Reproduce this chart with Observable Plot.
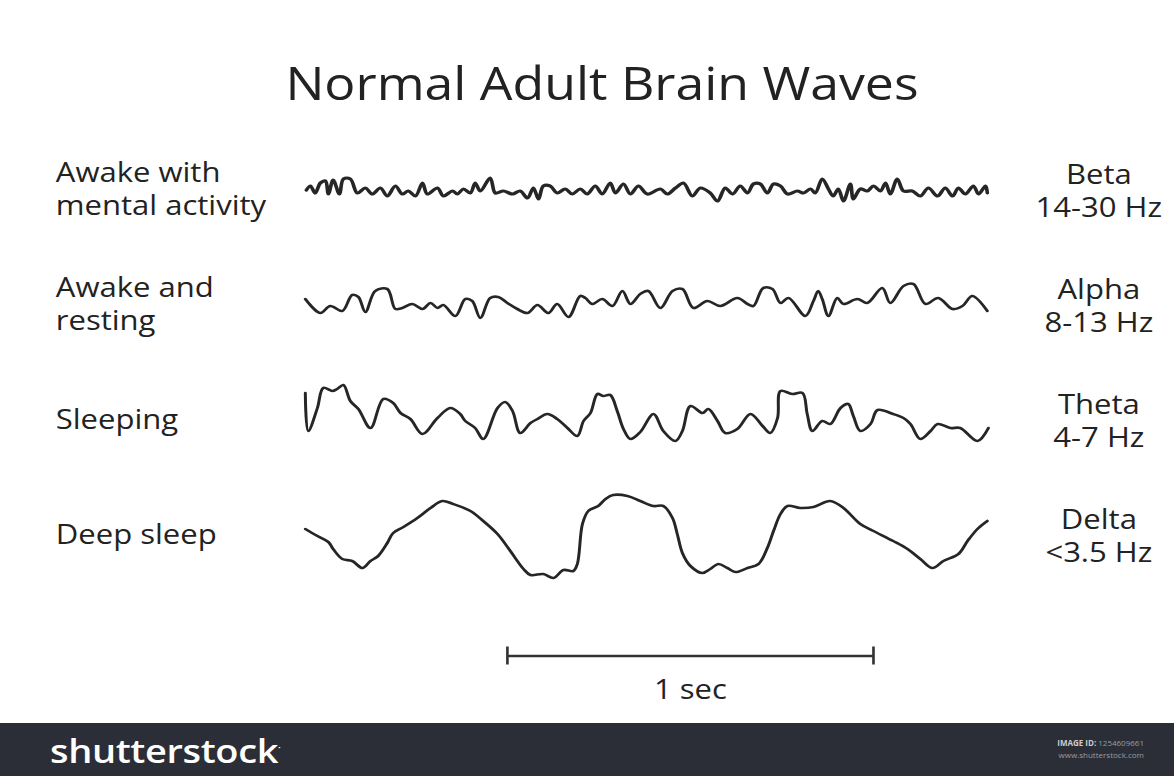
<!DOCTYPE html>
<html>
<head>
<meta charset="utf-8">
<script src="https://cdn.jsdelivr.net/npm/d3@7"></script>
<script src="https://cdn.jsdelivr.net/npm/@observablehq/plot@0.6"></script>
<style>
  html, body { margin: 0; padding: 0; background: #fff; width: 1174px; height: 776px; overflow: hidden; }
  #title { position: absolute; left: 602px; top: 60px; transform: translateX(-50%) scaleX(1.15); margin: 0;
           font: 400 45px/45px "Open Sans", sans-serif; color: #222; white-space: nowrap; }
  #chart { position: absolute; left: 0; top: 130px; transform: scaleX(1.15); transform-origin: 0 0; }
  #footer { position: absolute; left: 0; top: 723px; width: 1174px; height: 53px; background: #2b2e36; }
  #brand { position: absolute; left: 50px; top: 7px; font: 600 33px/36px "Open Sans", sans-serif; color: #fff;
           transform: scaleX(1.15); transform-origin: 0 0; letter-spacing: -0.3px; }
  #imgid { position: absolute; right: 30px; top: 14px; font: 400 8px/12px "Open Sans", sans-serif; color: #9a9ca3; text-align: right; }
</style>
</head>
<body>
<h1 id="title">Normal Adult Brain Waves</h1>
<div id="chart"></div>
<div id="footer"><div id="brand">shutterstock<sup style="font-size:9px">·</sup></div><div id="imgid"><b style="color:#ccc">IMAGE ID:</b> 1254609661<br>www.shutterstock.com</div></div>
<script>
// ---- Data (time in ms, amplitude in arbitrary units) ----
const waveKeys = ["Beta", "Alpha", "Theta", "Delta"];
const stateLabels = ["Awake with\nmental activity", "Awake and\nresting", "Sleeping", "Deep sleep"];
const bandLabels = ["Beta\n14-30 Hz", "Alpha\n8-13 Hz", "Theta\n4-7 Hz", "Delta\n<3.5 Hz"];

const betaPoints = [[3,-2],[14,2],[27,-5],[41,5],[55,7],[63,-6],[76,8],[93,-6],[104,9],[123,9],[142,-5],[164,0],[183,-6],[205,0],[224,-8],[246,2],[265,-6],[281,-3],[301,-8],[320,5],[333,-6],[361,0],[377,-8],[402,-3],[415,-6],[432,-1],[451,-5],[464,5],[478,-3],[505,10],[519,-5],[541,-3],[566,-6],[587,-3],[607,-10],[623,0],[637,-11],[650,2],[669,2],[688,-5],[710,-1],[729,-6],[751,-1],[770,-6],[792,2],[811,-6],[833,5],[847,-5],[869,4],[888,-6],[910,2],[934,-6],[970,-1],[989,-6],[1011,0],[1033,5],[1057,-8],[1079,0],[1106,-5],[1126,-13],[1147,0],[1167,-6],[1188,2],[1208,-5],[1224,4],[1243,4],[1262,-5],[1279,4],[1298,2],[1317,-6],[1344,-3],[1361,-5],[1380,-1],[1393,-5],[1412,9],[1429,-1],[1442,-8],[1456,-1],[1470,-13],[1489,4],[1497,-11],[1516,-1],[1535,-3],[1552,2],[1571,-3],[1585,5],[1598,-6],[1617,9],[1634,-3],[1658,-3],[1680,-8],[1702,0],[1727,-8],[1748,0],[1768,-8],[1784,0],[1803,-6],[1825,2],[1839,-6],[1858,2],[1863,-5]];

const alphaPoints = [[0,4],[41,-10],[68,-3],[101,-8],[128,8],[145,6],[164,-9],[191,12],[224,14],[246,-6],[265,-5],[292,-1],[320,-6],[342,0],[361,-5],[377,-2],[410,-13],[437,4],[456,2],[478,-15],[505,5],[527,6],[552,0],[579,-6],[607,-10],[634,-2],[664,-10],[688,-1],[719,-14],[751,7],[765,5],[784,-1],[811,4],[839,-3],[866,12],[888,-1],[915,9],[937,12],[970,-5],[1003,12],[1030,14],[1060,-5],[1098,2],[1134,-3],[1180,5],[1208,-1],[1224,-3],[1251,15],[1276,14],[1298,0],[1320,5],[1366,-13],[1388,2],[1401,12],[1412,4],[1429,-13],[1453,5],[1470,-1],[1508,4],[1535,0],[1576,15],[1598,0],[1634,17],[1661,19],[1694,-1],[1729,5],[1768,-6],[1795,-3],[1822,7],[1863,-8]];

const thetaPoints = [[0,25],[8,-13],[33,10],[49,30],[74,27],[87,29],[104,33],[123,17],[145,9],[178,-10],[213,19],[240,15],[260,5],[287,-1],[320,-16],[361,0],[396,10],[423,4],[437,-3],[464,-10],[486,-21],[525,10],[546,16],[566,7],[587,-15],[615,-5],[634,-1],[661,4],[688,-1],[716,-10],[743,-18],[760,-3],[779,5],[798,24],[814,22],[833,23],[852,7],[869,-11],[888,-21],[915,-14],[951,4],[978,-13],[1011,-23],[1030,-13],[1052,12],[1085,5],[1101,9],[1126,-3],[1147,-15],[1180,-11],[1216,4],[1249,-8],[1270,-15],[1290,0],[1298,27],[1330,24],[1358,25],[1371,4],[1385,-13],[1412,-3],[1434,-6],[1462,10],[1483,14],[1497,2],[1516,-13],[1544,-6],[1563,8],[1606,4],[1634,0],[1653,-6],[1680,-21],[1708,-13],[1727,-6],[1762,-10],[1789,-10],[1836,-23],[1866,-10]];

const deltaPoints = [[0,4],[33,-3],[63,-9],[76,-16],[101,-26],[128,-28],[156,-35],[178,-28],[199,-23],[224,-10],[240,0],[268,6],[306,15],[342,25],[374,32],[404,29],[451,22],[486,12],[525,-1],[560,-18],[596,-36],[615,-42],[650,-41],[678,-45],[705,-37],[732,-38],[743,-31],[757,9],[773,22],[800,27],[820,34],[841,38],[880,37],[915,32],[951,27],[978,27],[1003,15],[1016,-1],[1030,-20],[1052,-33],[1085,-40],[1106,-36],[1128,-31],[1153,-35],[1175,-39],[1208,-35],[1238,-31],[1262,-15],[1279,2],[1298,19],[1317,27],[1352,25],[1388,26],[1434,32],[1470,25],[1516,9],[1552,2],[1606,-8],[1645,-16],[1680,-26],[1713,-35],[1743,-28],[1784,-21],[1809,-8],[1836,4],[1863,12]];

const scaleBarTimes = [552, 1552];   // 1 second
const scaleBarLabel = "1 sec";
const traceDuration = 1866;

// ---- Build tables ----
const pointSets = [betaPoints, alphaPoints, thetaPoints, deltaPoints];
const traces = pointSets.flatMap((pts, i) => pts.map(([t, v]) => ({wave: waveKeys[i], t, v})));
const rows = waveKeys.map((k, i) => ({wave: k, state: stateLabels[i], band: bandLabels[i]}));
const scaleRow = [{wave: "scale", start: scaleBarTimes[0], end: scaleBarTimes[1], mid: (scaleBarTimes[0] + scaleBarTimes[1]) / 2, label: scaleBarLabel}];
const scaleTicks = scaleBarTimes.map(t => ({wave: "scale", t}));

const chart = Plot.plot({
  width: 1021,
  height: 590,
  marginLeft: 265,
  marginRight: 162,
  marginTop: 0,
  marginBottom: 15,
  style: {fontFamily: "'Open Sans', sans-serif", fontSize: "27px", color: "#222", background: "transparent", overflow: "visible"},
  x: {domain: [0, traceDuration], axis: null},
  y: {domain: [-57.5, 57.5], axis: null},
  fy: {domain: [...waveKeys, "scale"], axis: null, padding: 0},
  marks: [
    Plot.line(traces, {fy: "wave", x: "t", y: "v", curve: "catmull-rom", stroke: "#262626", strokeWidth: d => d.wave === "Beta" ? 3.2 : 2.6}),
    Plot.text(rows, {fy: "wave", text: "state", frameAnchor: "left", textAnchor: "start", dx: -217, lineHeight: 1.23, fill: "#222"}),
    Plot.text(rows, {fy: "wave", text: "band", frameAnchor: "right", textAnchor: "middle", dx: 96, dy: 2, lineHeight: 1.23, fill: "#222"}),
    Plot.ruleY(scaleRow, {fy: "wave", y: 0, x1: "start", x2: "end", dy: 8, stroke: "#333", strokeWidth: 2.5}),
    Plot.ruleX(scaleTicks, {fy: "wave", x: "t", y1: -9, y2: 9, dy: 8, stroke: "#333", strokeWidth: 2.3}),
    Plot.text(scaleRow, {fy: "wave", x: "mid", y: 0, text: "label", dy: 42, fill: "#222"})
  ]
});
document.getElementById("chart").appendChild(chart);
</script>
</body>
</html>
